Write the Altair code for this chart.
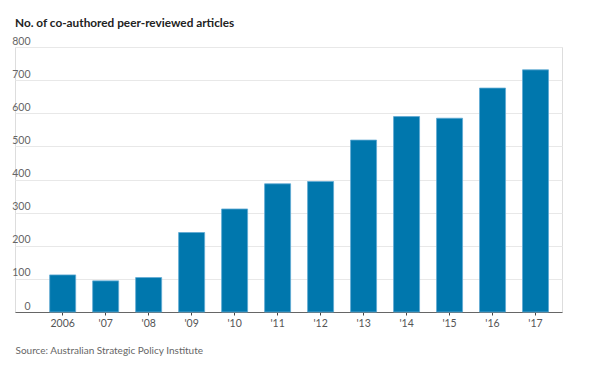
import altair as alt
import pandas as pd

years = ["2006", "'07", "'08", "'09", "'10", "'11", "'12", "'13", "'14", "'15", "'16", "'17"]
articles = [112, 94, 104, 240, 311, 387, 394, 519, 590, 585, 676, 731]
y_ticks = [0, 100, 200, 300, 400, 500, 600, 700, 800]

title_text = "No. of co-authored peer-reviewed articles"
source_text = "Source: Australian Strategic Policy Institute"

df = pd.DataFrame({"year": years, "articles": articles})

FONT = "Lato, Roboto, sans-serif"

chart = alt.Chart(df).mark_bar(
    color="#0077ad", stroke="#5fa9d3", strokeWidth=0.8
).encode(
    x=alt.X(
        "year:N",
        sort=years,
        scale=alt.Scale(paddingInner=0.395, paddingOuter=0.56, align=0.72),
        axis=alt.Axis(
            title=source_text,
            titleAnchor="start",
            titleAlign="left",
            titleX=0,
            titleY=33,
            titleFont=FONT,
            titleFontSize=10,
            titleFontWeight="normal",
            titleColor="#666666",
            labelAngle=0,
            labelFont=FONT,
            labelFontSize=10.5,
            labelColor="#555555",
            labelPadding=3,
            domainColor="#666666",
            domainWidth=1,
            tickColor="#444444",
            tickSize=3,
            grid=False,
        ),
    ),
    y=alt.Y(
        "articles:Q",
        scale=alt.Scale(domain=[0, 800], nice=False),
        axis=alt.Axis(
            title=None,
            values=y_ticks,
            labelAlign="right",
            labelBaseline="bottom",
            labelPadding=-15,
            labelOffset=-1,
            labelFont=FONT,
            labelFontSize=10.5,
            labelColor="#666666",
            tickSize=0,
            ticks=False,
            domain=False,
            grid=True,
            gridColor="#e8e8e8",
            gridWidth=1,
        ),
    ),
).properties(
    width=547,
    height=265,
    title=alt.TitleParams(
        text=title_text,
        anchor="start",
        frame="group",
        font=FONT,
        fontSize=11.8,
        fontWeight="bold",
        color="#222222",
        offset=6,
    ),
    autosize=alt.AutoSizeParams(type="none"),
    padding={"left": 7, "top": 39, "right": 30, "bottom": 50},
).configure_view(
    stroke=None
).configure(
    background="white"
)

chart.save("out.html", embed_options={"renderer": "svg", "actions": False})
